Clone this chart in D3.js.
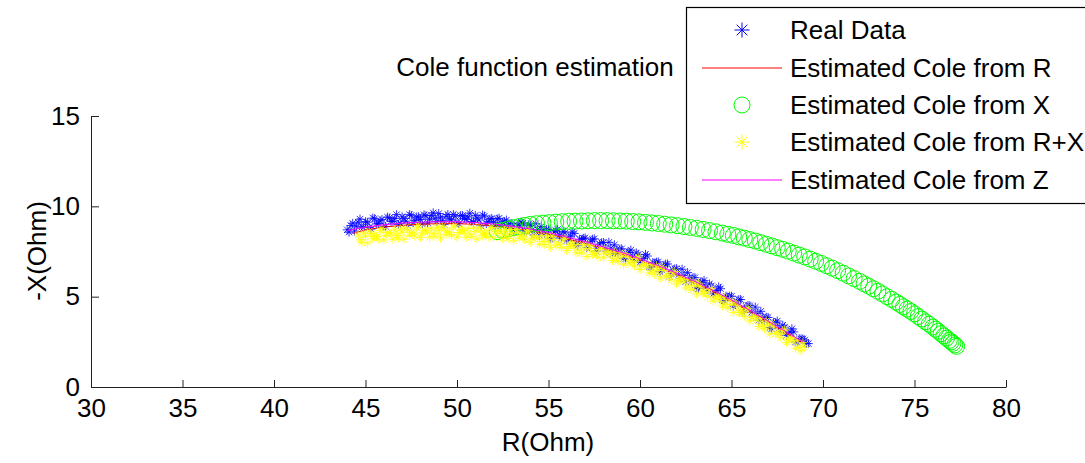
<!DOCTYPE html>
<html>
<head>
<meta charset="utf-8">
<script src="https://cdn.jsdelivr.net/npm/d3@7"></script>
<style>
  html, body { margin: 0; padding: 0; background: #fff; }
  svg { display: block; }
  text { font-family: "Liberation Sans", Arial, Helvetica, sans-serif; fill: #000; }
</style>
</head>
<body>
<svg id="chart" width="1085" height="463"></svg>
<script>
// Axis ticks
const xTicks = [30, 35, 40, 45, 50, 55, 60, 65, 70, 75, 80];
const yTicks = [0, 5, 10, 15];

// Measured impedance (Real Data)
const realR = [44.0,44.2,44.4,44.6,44.8,45.0,45.2,45.4,45.6,45.8,46.0,46.2,46.4,46.6,46.8,47.0,47.2,47.4,47.6,47.8,
  48.0,48.2,48.4,48.6,48.8,49.0,49.2,49.4,49.6,49.8,50.0,50.2,50.4,50.6,50.8,51.0,51.2,51.4,51.6,51.8,
  52.0,52.2,52.4,52.6,52.8,53.0,53.2,53.4,53.6,53.8,54.0,54.2,54.4,54.6,54.8,55.0,55.2,55.4,55.6,55.8,
  56.0,56.2,56.4,56.6,56.8,57.0,57.2,57.4,57.6,57.8,58.0,58.2,58.4,58.6,58.8,59.0,59.2,59.4,59.6,59.8,
  60.0,60.2,60.4,60.6,60.8,61.0,61.2,61.4,61.6,61.8,62.0,62.2,62.4,62.6,62.8,63.0,63.2,63.4,63.6,63.8,
  64.0,64.2,64.4,64.6,64.8,65.0,65.2,65.4,65.6,65.8,66.0,66.2,66.4,66.6,66.8,67.0,67.2,67.4,67.6,67.8,
  68.0,68.2,68.4,68.6,68.8,69.0,69.2,
  44.1,44.3,44.5,44.7,44.9,45.1,45.3,45.5,45.7,45.9,46.1,46.3,46.5,46.7,46.9,47.1,47.3,47.5,47.7,47.9,
  48.1,48.3,48.5,48.7,48.9,49.1,49.3,49.5,49.7,49.9,50.1,50.3,50.5,50.7,50.9,51.1,51.3,51.5,51.7,51.9,
  52.1,52.3,52.5,52.7,52.9,53.1,53.3,53.5,53.7,53.9,54.1,54.3,54.5,54.7,54.9,55.1,55.3,55.5,55.7,55.9,
  56.1,56.3,56.5,56.7,56.9,57.1,57.3,57.5,57.7,57.9,58.1,58.3,58.5,58.7,58.9,59.1,59.3,59.5,59.7,59.9,
  60.1,60.3,60.5,60.7,60.9,61.1,61.3,61.5,61.7,61.9,62.1,62.3,62.5,62.7,62.9,63.1,63.3,63.5,63.7,63.9,
  64.1,64.3,64.5,64.7,64.9,65.1,65.3,65.5,65.7,65.9,66.1,66.3,66.5,66.7,66.9,67.1,67.3,67.5,67.7,67.9,
  68.1,68.3,68.5,68.7,68.9,69.1];
const realX = [8.70,8.94,8.63,9.12,8.86,9.15,8.83,9.35,9.03,9.20,8.88,9.40,9.17,9.33,9.00,9.42,9.18,9.54,9.10,9.41,
  9.27,9.53,9.08,9.49,9.34,9.60,9.20,9.45,9.30,9.55,9.10,9.49,9.33,9.42,9.16,9.50,9.24,9.52,9.05,9.29,
  9.12,9.30,8.92,9.15,8.97,9.05,8.67,8.94,9.06,8.63,8.95,8.41,8.72,8.88,8.49,8.70,8.25,8.65,8.40,8.60,
  8.10,8.35,8.50,7.85,8.15,8.25,7.84,8.18,7.52,7.91,8.00,7.49,7.68,7.87,7.41,7.65,7.08,7.46,7.24,7.42,
  6.90,7.12,7.25,6.62,6.85,6.92,6.49,6.80,6.12,6.48,6.55,6.01,6.17,6.33,5.84,6.05,5.45,5.80,5.55,5.70,
  5.15,5.34,5.44,4.78,4.98,5.02,4.56,4.84,4.13,4.46,4.50,3.93,4.06,4.19,3.67,3.85,3.23,3.56,3.29,3.42,
  2.85,3.03,3.05,2.48,2.66,2.60,2.40,
  8.57,9.06,8.90,9.29,8.83,9.12,8.74,9.32,9.04,9.27,8.89,9.36,9.18,9.54,9.06,9.33,8.94,9.50,9.21,9.42,
  9.03,9.48,9.29,9.64,9.15,9.40,9.00,9.55,9.25,9.45,9.05,9.49,9.28,9.62,9.11,9.35,8.93,9.46,9.15,9.33,
  8.91,9.34,9.11,9.24,8.91,8.59,8.96,9.13,8.65,8.97,8.68,9.04,8.40,8.66,8.72,8.23,8.58,8.73,8.23,8.53,
  8.23,8.58,7.93,8.18,8.23,7.72,8.06,8.20,7.69,7.98,7.67,8.01,7.35,7.59,7.63,7.12,7.45,7.58,7.06,7.34,
  7.01,7.34,6.66,6.89,6.91,6.38,6.70,6.81,6.28,6.54,6.21,6.52,5.83,6.04,6.05,5.50,5.80,5.90,5.35,5.60,
  5.25,5.54,4.84,5.03,5.03,4.47,4.75,4.84,4.27,4.51,4.14,4.42,3.70,3.88,3.86,3.29,3.57,3.65,3.08,3.31,
  2.94,3.22,2.49,2.67,2.66,2.40];

// Cole fit from R
const coleRR = [44.3,45,46,47,48,49,50,51,52,53,54,55,56,57,58,59,60,61,62,63,64,65,66,67,68,68.8];
const coleRX = [8.50,8.70,8.85,8.95,9.01,9.04,9.04,9.00,8.92,8.80,8.65,8.45,8.20,7.95,7.65,7.35,7.00,6.62,6.20,5.75,5.26,4.73,4.17,3.57,2.97,2.48];

// Cole fit from X
const coleXR = [52.2,52.5,52.8,53.1,53.4,53.7,54.0,54.35,54.7,55.05,55.4,55.75,56.1,56.45,56.8,57.15,57.5,57.85,58.2,58.55,
  58.9,59.25,59.6,59.95,60.3,60.65,61.0,61.35,61.7,62.05,62.4,62.75,63.1,63.45,63.8,64.15,64.5,64.8,65.1,65.4,
  65.7,66.0,66.3,66.6,66.9,67.2,67.5,67.8,68.1,68.4,68.7,69.0,69.3,69.6,69.9,70.2,70.5,70.8,71.1,71.4,
  71.7,72.0,72.25,72.5,72.75,73.0,73.25,73.5,73.75,74.0,74.2,74.4,74.6,74.8,75.0,75.2,75.4,75.6,75.8,76.0,
  76.15,76.3,76.45,76.6,76.75,76.9,77.0,77.1,77.2,77.3];
const coleXX = [8.60,8.67,8.75,8.82,8.88,8.94,9.00,9.04,9.07,9.10,9.13,9.15,9.17,9.18,9.19,9.20,9.21,9.21,9.21,9.20,
  9.19,9.18,9.16,9.14,9.11,9.08,9.05,9.01,8.97,8.93,8.88,8.83,8.78,8.72,8.66,8.59,8.52,8.45,8.39,8.31,
  8.24,8.16,8.08,7.99,7.90,7.81,7.71,7.62,7.52,7.41,7.30,7.20,7.08,6.96,6.84,6.71,6.58,6.44,6.30,6.15,
  6.00,5.85,5.71,5.58,5.44,5.30,5.15,5.00,4.85,4.70,4.57,4.44,4.31,4.18,4.05,3.90,3.76,3.61,3.47,3.32,
  3.20,3.08,2.95,2.83,2.71,2.58,2.50,2.42,2.33,2.25];

// Cole fit from R+X
const coleRXR = [44.6,44.8,45.0,45.2,45.4,45.6,45.8,46.0,46.2,46.4,46.6,46.8,47.0,47.2,47.4,47.6,47.8,48.0,48.2,48.4,
  48.6,48.8,49.0,49.2,49.4,49.6,49.8,50.0,50.2,50.4,50.6,50.8,51.0,51.2,51.4,51.6,51.8,52.0,52.2,52.4,
  52.6,52.8,53.0,53.2,53.4,53.6,53.8,54.0,54.2,54.4,54.6,54.8,55.0,55.2,55.4,55.6,55.8,56.0,56.2,56.4,
  56.6,56.8,57.0,57.2,57.4,57.6,57.8,58.0,58.2,58.4,58.6,58.8,59.0,59.2,59.4,59.6,59.8,60.0,60.2,60.4,
  60.6,60.8,61.0,61.2,61.4,61.6,61.8,62.0,62.2,62.4,62.6,62.8,63.0,63.2,63.4,63.6,63.8,64.0,64.2,64.4,
  64.6,64.8,65.0,65.2,65.4,65.6,65.8,66.0,66.2,66.4,66.6,66.8,67.0,67.2,67.4,67.6,67.8,68.0,68.2,68.4,
  68.6,68.8,69.0,
  44.7,44.9,45.1,45.3,45.5,45.7,45.9,46.1,46.3,46.5,46.7,46.9,47.1,47.3,47.5,47.7,47.9,48.1,48.3,48.5,
  48.7,48.9,49.1,49.3,49.5,49.7,49.9,50.1,50.3,50.5,50.7,50.9,51.1,51.3,51.5,51.7,51.9,52.1,52.3,52.5,
  52.7,52.9,53.1,53.3,53.5,53.7,53.9,54.1,54.3,54.5,54.7,54.9,55.1,55.3,55.5,55.7,55.9,56.1,56.3,56.5,
  56.7,56.9,57.1,57.3,57.5,57.7,57.9,58.1,58.3,58.5,58.7,58.9,59.1,59.3,59.5,59.7,59.9,60.1,60.3,60.5,
  60.7,60.9,61.1,61.3,61.5,61.7,61.9,62.1,62.3,62.5,62.7,62.9,63.1,63.3,63.5,63.7,63.9,64.1,64.3,64.5,
  64.7,64.9,65.1,65.3,65.5,65.7,65.9,66.1,66.3,66.5,66.7,66.9,67.1,67.3,67.5,67.7,67.9,68.1,68.3,68.5,
  68.7,68.9];
const coleRXX = [8.42,8.01,8.35,8.63,8.20,8.33,8.65,8.13,8.55,8.47,8.68,8.25,8.57,8.83,8.39,8.50,8.81,8.27,8.68,8.58,
  8.79,8.34,8.65,8.90,8.45,8.55,8.85,8.30,8.69,8.58,8.77,8.31,8.60,8.84,8.37,8.45,8.74,8.27,8.65,8.52,
  8.70,8.22,8.50,8.72,8.24,8.31,8.58,8.00,8.36,8.22,8.38,7.89,8.15,8.35,7.85,7.90,8.15,7.55,7.90,7.75,
  7.90,7.40,7.65,7.84,7.33,7.37,7.61,7.15,7.49,7.33,7.47,6.96,7.20,7.38,6.86,6.89,7.12,6.50,6.82,6.65,
  6.77,6.25,6.47,6.64,6.10,6.12,6.33,5.70,6.01,5.82,5.93,5.39,5.60,5.75,5.20,5.20,5.40,4.75,5.04,4.84,
  4.93,4.38,4.57,4.71,4.14,4.13,4.31,3.65,3.93,3.71,3.79,3.22,3.40,3.53,2.96,2.94,3.12,2.45,2.73,2.50,
  2.58,2.01,2.20,
  8.14,8.53,7.97,8.49,8.37,8.19,8.77,8.39,8.56,8.18,8.39,8.76,8.18,8.69,8.55,8.36,8.92,8.53,8.68,8.29,
  8.49,8.85,8.25,8.75,8.60,8.40,8.95,8.55,8.69,8.28,8.47,8.81,8.20,8.68,8.51,8.30,8.83,8.51,8.64,8.21,
  8.39,8.71,8.09,8.56,8.38,8.15,8.67,8.23,8.34,7.90,8.06,8.37,7.73,8.18,7.98,7.73,8.23,7.78,7.88,7.43,
  7.58,7.88,7.22,7.66,7.45,7.19,7.68,7.37,7.46,7.00,7.14,7.43,6.77,7.20,6.98,6.71,7.19,6.71,6.79,6.31,
  6.44,6.71,6.03,6.45,6.21,5.93,6.39,5.91,5.97,5.48,5.59,5.85,5.15,5.55,5.30,5.00,5.45,4.95,4.99,4.49,
  4.58,4.83,4.12,4.50,4.24,3.92,4.36,3.84,3.87,3.35,3.43,3.66,2.94,3.32,3.05,2.73,3.16,2.64,2.67,2.14,
  2.22,2.46];

// Cole fit from Z
const coleZR = [44.0,45,46,47,48,49,50,51,52,53,54,55,56,57,58,59,60,61,62,63,64,65,66,67,68,68.9];
const coleZX = [8.65,8.85,8.98,9.07,9.12,9.15,9.15,9.10,9.02,8.90,8.75,8.55,8.30,8.05,7.75,7.45,7.10,6.72,6.30,5.85,5.35,4.82,4.25,3.65,3.05,2.50];

const legendLabels = ["Real Data", "Estimated Cole from R", "Estimated Cole from X",
  "Estimated Cole from R+X", "Estimated Cole from Z"];

const svg = d3.select("#chart");
svg.append("rect").attr("width", 1085).attr("height", 463).attr("fill", "#fff");

const x = d3.scaleLinear().domain([30, 80]).range([91, 1006]);
const y = d3.scaleLinear().domain([0, 15]).range([387, 116]);

const FS = 26;

// Axes (box off: only left and bottom)
const gx = svg.append("g").attr("transform", `translate(0,${y(0)})`)
  .call(d3.axisBottom(x).tickValues(xTicks).tickSize(-7).tickSizeOuter(0).tickPadding(12).tickFormat(d3.format("d")));
const gy = svg.append("g").attr("transform", `translate(${x(30)},0)`)
  .call(d3.axisLeft(y).tickValues(yTicks).tickSize(-8).tickSizeOuter(0).tickPadding(11).tickFormat(d3.format("d")));
[gx, gy].forEach(g => {
  g.selectAll("path.domain").attr("stroke", "#222").attr("stroke-width", 1);
  g.selectAll(".tick line").attr("stroke", "#222").attr("stroke-width", 1);
  g.selectAll(".tick text").attr("font-size", FS).attr("font-family", "Liberation Sans, Arial, sans-serif").attr("fill", "#000");
});

// Axis labels and title
svg.append("text").attr("x", 548).attr("y", 451).attr("text-anchor", "middle").attr("font-size", FS).text("R(Ohm)");
svg.append("text").attr("transform", `translate(46,251) rotate(-90)`).attr("text-anchor", "middle").attr("font-size", FS).text("-X(Ohm)");
svg.append("text").attr("x", 535).attr("y", 76).attr("text-anchor", "middle").attr("font-size", FS).text("Cole function estimation");

// Asterisk marker path centred at 0,0
function asterisk(s) {
  const d = s * 0.707;
  return `M${-s},0H${s}M0,${-s}V${s}M${-d},${-d}L${d},${d}M${-d},${d}L${d},${-d}`;
}

const plot = svg.append("g");
const line = d3.line().x(d => x(d[0])).y(d => y(d[1]));

// Real data
plot.append("g").selectAll("path").data(d3.zip(realR, realX)).join("path")
  .attr("transform", d => `translate(${x(d[0])},${y(d[1])})`)
  .attr("d", asterisk(4.5)).attr("stroke", "#0000ff").attr("stroke-width", 0.8).attr("fill", "none");

// Cole from R
plot.append("path").datum(d3.zip(coleRR, coleRX)).attr("d", line)
  .attr("fill", "none").attr("stroke", "#ff0000").attr("stroke-width", 1);

// Cole from X
plot.append("g").selectAll("circle").data(d3.zip(coleXR, coleXX)).join("circle")
  .attr("cx", d => x(d[0])).attr("cy", d => y(d[1])).attr("r", 8)
  .attr("fill", "none").attr("stroke", "#00ff00").attr("stroke-width", 1);

// Cole from R+X
plot.append("g").selectAll("path").data(d3.zip(coleRXR, coleRXX)).join("path")
  .attr("transform", d => `translate(${x(d[0])},${y(d[1])})`)
  .attr("d", asterisk(4.5)).attr("stroke", "#ffff00").attr("stroke-width", 0.8).attr("fill", "none");

// Cole from Z
plot.append("path").datum(d3.zip(coleZR, coleZX)).attr("d", line)
  .attr("fill", "none").attr("stroke", "#ff00ff").attr("stroke-width", 1);

// Legend
const lg = svg.append("g");
lg.append("rect").attr("x", 686.5).attr("y", 7.5).attr("width", 420).attr("height", 196)
  .attr("fill", "#fff").attr("stroke", "#000").attr("stroke-width", 1.2);
const rowY = [30, 68, 105, 142, 180];
lg.selectAll("text").data(legendLabels).join("text")
  .attr("x", 790).attr("y", (d, i) => rowY[i] + 9).attr("font-size", FS).text(d => d);
lg.append("path").attr("transform", `translate(742,${rowY[0]})`).attr("d", asterisk(7.5))
  .attr("stroke", "#0000ff").attr("stroke-width", 1).attr("fill", "none");
lg.append("line").attr("x1", 702).attr("x2", 782).attr("y1", rowY[1]).attr("y2", rowY[1])
  .attr("stroke", "#ff0000").attr("stroke-width", 1);
lg.append("circle").attr("cx", 742).attr("cy", rowY[2]).attr("r", 8)
  .attr("fill", "none").attr("stroke", "#00ff00").attr("stroke-width", 1);
lg.append("path").attr("transform", `translate(742,${rowY[3]})`).attr("d", asterisk(7.5))
  .attr("stroke", "#ffff00").attr("stroke-width", 1).attr("fill", "none");
lg.append("line").attr("x1", 702).attr("x2", 782).attr("y1", rowY[4]).attr("y2", rowY[4])
  .attr("stroke", "#ff00ff").attr("stroke-width", 1);
</script>
</body>
</html>
